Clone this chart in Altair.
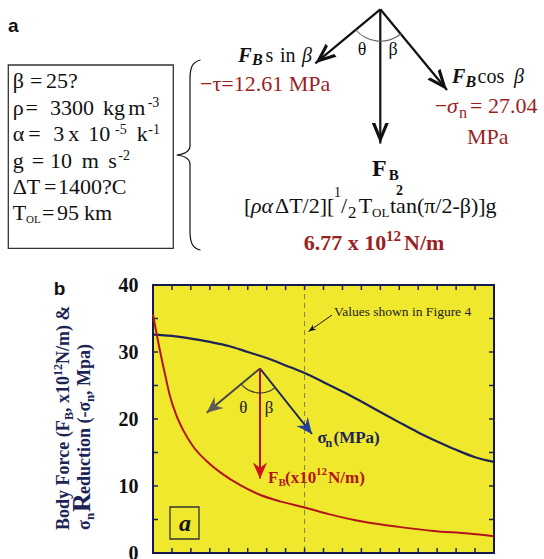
import math
import altair as alt
import pandas as pd

# ---------------- data ----------------
sigma_beta = [5, 7.5, 10, 12.5, 15, 17.5, 20, 22.5, 25, 27.5, 30, 32.5, 35, 37.5, 40, 42.5, 45, 47.5, 50]
sigma_n = [32.6, 32.4, 32.0, 31.5, 30.9, 30.0, 29.1, 28.0, 26.85, 25.5, 24.1, 22.6, 21.05, 19.5, 18.0, 16.65, 15.4, 14.3, 13.6]
fb_beta = [5.0, 5.9, 6.6, 7.2, 8.1, 9.0, 10.3, 12.1, 14.3, 16.4, 19.1, 21.8, 25.0, 28.2, 32.8, 37.4, 42.0, 46.6, 50.0]
fb_force = [35.6, 30.3, 26.6, 23.6, 20.5, 18.3, 15.9, 13.7, 11.7, 10.2, 8.7, 7.7, 6.8, 5.8, 4.65, 3.9, 3.3, 2.9, 2.5]
marked_beta = [25]
y_labels = [0, 10, 20, 30, 40]
x_ticks = [7.5, 10, 12.5, 15, 17.5, 20, 22.5, 25, 27.5, 30, 32.5, 35, 37.5, 40, 42.5, 45, 47.5]
y_ticks = [5, 10, 15, 20, 25, 30, 35]

# ---------------- layout (page pixels of the plot area) ----------------
X0, X1, Y0, Y1 = 153.0, 494.0, 285.0, 553.0
XMIN, XMAX, YMIN, YMAX = 5.0, 50.0, 0.0, 40.0


def dx(px):
    return XMIN + (px - X0) * (XMAX - XMIN) / (X1 - X0)


def dy(py):
    return YMIN + (Y1 - py) * (YMAX - YMIN) / (Y1 - Y0)


SERIF = "Liberation Serif"
SANS = "Liberation Sans"
K = "#111111"
DR = "#9b1f1f"
NV = "#1c2456"
RD = "#b3141c"
BL = "#22409a"
GY = "#5a5a5a"
YEL = "#f0e82c"

XS = alt.Scale(domain=[XMIN, XMAX], nice=False, zero=False)
YS = alt.Scale(domain=[YMIN, YMAX], nice=False, zero=False)
YAXIS = alt.Axis(values=y_labels, ticks=False, domain=False, grid=False,
                 labelFont=SERIF, labelFontWeight="bold", labelFontSize=20,
                 labelColor=K, labelPadding=15, title=None)


def X(f):
    return alt.X(f, type="quantitative", scale=XS, axis=None)


def Y(f):
    return alt.Y(f, type="quantitative", scale=YS, axis=YAXIS)


layers = []

# dashed marker line
layers.append(
    alt.Chart(pd.DataFrame({"b": marked_beta}))
    .mark_rule(color="#85805a", strokeWidth=1, strokeDash=[5, 4])
    .encode(x=X("b"))
)

# inward ticks
tl = 5.0  # px
tdy = tl * (YMAX - YMIN) / (Y1 - Y0)
tdx = tl * (XMAX - XMIN) / (X1 - X0)
tick_rows = []
for b in x_ticks:
    tick_rows.append({"x": b, "x2": b, "y": YMAX, "y2": YMAX - tdy})
    tick_rows.append({"x": b, "x2": b, "y": YMIN, "y2": YMIN + tdy})
for v in y_ticks:
    tick_rows.append({"x": XMIN, "x2": XMIN + tdx, "y": v, "y2": v})
    tick_rows.append({"x": XMAX, "x2": XMAX - tdx, "y": v, "y2": v})
layers.append(
    alt.Chart(pd.DataFrame(tick_rows))
    .mark_rule(color=NV, strokeWidth=1.5)
    .encode(x=X("x"), x2="x2", y=Y("y"), y2="y2")
)

# curves
layers.append(
    alt.Chart(pd.DataFrame({"b": sigma_beta, "v": sigma_n}))
    .mark_line(color=NV, strokeWidth=2.2, interpolate="monotone")
    .encode(x=X("b"), y=Y("v"))
)
layers.append(
    alt.Chart(pd.DataFrame({"b": fb_beta, "v": fb_force}))
    .mark_line(color=RD, strokeWidth=2, interpolate="monotone")
    .encode(x=X("b"), y=Y("v"))
)

# ---------------- diagram geometry ----------------
APEX_A = (380.3, 9.3)
APEX_B = (260.0, 368.5)
arrows = [
    # (x1, y1, x2, y2, line colour, head colour, width, head kind)
    (APEX_A[0], APEX_A[1], 380.3, 143.5, K, K, 2.2, "chev"),
    (APEX_A[0], APEX_A[1], 315.3, 63.3, K, K, 2.2, "chev"),
    (APEX_A[0], APEX_A[1], 447.0, 90.0, K, K, 2.2, "chev"),
    (APEX_B[0], APEX_B[1], 206.7, 412.7, "#444444", GY, 2.0, "stealth"),
    (APEX_B[0], APEX_B[1], 312.0, 434.0, NV, BL, 2.0, "stealth"),
    (APEX_B[0], APEX_B[1], 260.0, 478.5, RD, "#d0121c", 2.0, "stealth"),
    (332.0, 315.0, 308.5, 331.5, K, K, 1.0, "small"),
]
line_rows, head_rows = [], []
for x1, y1, x2, y2, lc, hc, w, kind in arrows:
    line_rows.append({"x": dx(x1), "y": dy(y1), "x2": dx(x2), "y2": dy(y2), "c": lc, "w": w})
    ang = math.degrees(math.atan2(x2 - x1, -(y2 - y1))) % 360
    head_rows.append({"x": dx(x2), "y": dy(y2), "a": ang, "c": hc, "k": kind})

layers.append(
    alt.Chart(pd.DataFrame(line_rows))
    .mark_rule()
    .encode(x=X("x"), y=Y("y"), x2="x2", y2="y2",
            color=alt.Color("c:N", scale=None),
            strokeWidth=alt.StrokeWidth("w:Q", scale=None))
)

HEADS = {
    "chev": ("M0,0 L0.85,2.05 L0.5,2.05 L0,0.8 L-0.5,2.05 L-0.85,2.05 Z", 400),
    "stealth": ("M0,0 L0.9,2 L0,1.35 L-0.9,2 Z", 256),
    "small": ("M0,0 L1,2.6 L0,1.8 L-1,2.6 Z", 36),
}
hdf = pd.DataFrame(head_rows)
for kind, (path, size) in HEADS.items():
    sub = hdf[hdf["k"] == kind]
    layers.append(
        alt.Chart(sub)
        .mark_point(shape=path, filled=True, size=size, opacity=1, strokeWidth=0)
        .encode(x=X("x"), y=Y("y"),
                angle=alt.Angle("a:Q", scale=None),
                color=alt.Color("c:N", scale=None))
    )

# angle arcs
arcs = [
    (APEX_A, 32.0, 140.4, 230.3, "#666666"),
    (APEX_B, 24.5, 141.3, 230.9, "#333333"),
]
for (cx, cy), r, t1, t2, c in arcs:
    layers.append(
        alt.Chart(pd.DataFrame({"x": [dx(cx)], "y": [dy(cy)]}))
        .mark_arc(radius=r + 0.55, radius2=r - 0.55, theta=math.radians(t1),
                  theta2=math.radians(t2), color=c)
        .encode(x=X("x"), y=Y("y"))
    )

# rectangles (parameter box, "a" box)
rects = [(8.3, 65.0, 173.3, 248.3), (170.0, 507.0, 199.0, 539.0)]
layers.append(
    alt.Chart(pd.DataFrame([{"x": dx(a), "y": dy(b), "x2": dx(c), "y2": dy(d)} for a, b, c, d in rects]))
    .mark_rect(fillOpacity=0, stroke="#333333", strokeWidth=1.3)
    .encode(x=X("x"), x2="x2", y=Y("y"), y2="y2")
)

# curly brace
BRACE = ("M0.11,-1 C0.03,-0.98 0,-0.93 0,-0.8 L0,-0.1 C0,-0.04 -0.05,-0.01 -0.14,0 "
         "C-0.05,0.01 0,0.04 0,0.1 L0,0.8 C0,0.93 0.03,0.98 0.11,1")
layers.append(
    alt.Chart(pd.DataFrame({"x": [dx(190.0)], "y": [dy(155.0)]}))
    .mark_point(shape=BRACE, filled=False, size=190 * 190, color=K, strokeWidth=1.2, opacity=1)
    .encode(x=X("x"), y=Y("y"))
)

# ---------------- texts ----------------
texts = []


def T(t, x, y, s, c=K, font=SERIF, wt="normal", st="normal", al="left", bl="alphabetic", ang=0):
    texts.append({"t": t, "x": dx(x), "y": dy(y), "s": s, "c": c, "font": font,
                  "wt": wt, "st": st, "al": al, "bl": bl, "ang": ang})


# panel labels
T("a", 8, 32, 19, K, SANS, "bold")
T("b", 53.8, 295, 19, K, SANS, "bold")

# parameter box
BS = 22
T("β", 12.7, 88, BS); T("=", 30, 88, BS); T("25?", 46, 88, BS)
T("ρ", 12.7, 114.5, BS); T("=", 25.5, 114.5, BS); T("3300", 50, 114.5, BS)
T("kg", 103, 114.5, BS); T("m", 128.3, 114.5, BS); T("-3", 147.7, 107, 14)
T("α", 12.7, 141, BS); T("=", 28.3, 141, BS); T("3", 53.3, 141, BS); T("x", 68.3, 141, BS)
T("10", 88.3, 141, BS); T("-5", 115, 133.5, 14); T("k", 136.7, 141, BS); T("-1", 148.3, 133.5, 14)
T("g", 12.7, 167.5, BS); T("=", 31.7, 167.5, BS); T("10", 50, 167.5, BS); T("m", 81.7, 167.5, BS)
T("s", 108.3, 167.5, BS); T("-2", 118.3, 160, 14)
T("ΔT", 12.7, 194, BS); T("=", 44, 194, BS); T("1400?C", 58, 194, BS)
T("T", 12.7, 219.5, BS); T("OL", 26, 223, 11); T("=", 42, 219.5, BS); T("95", 57, 219.5, BS); T("km", 84, 219.5, BS)

# force decomposition
T("F", 238.3, 61.5, 20, K, SERIF, "bold", "italic"); T("B", 252, 65, 16, K, SERIF, "bold", "italic")
T("s", 265.5, 61.5, 20); T("in", 280, 61.5, 20); T("β", 302, 61.5, 20, K, SERIF, "normal", "italic")
T("−τ=12.61 MPa", 200, 91, 22, DR)
T("F", 452, 83, 20, K, SERIF, "bold", "italic"); T("B", 465.5, 86.5, 16, K, SERIF, "bold", "italic")
T("cos", 477.5, 83, 20); T("β", 514, 83, 20, K, SERIF, "normal", "italic")
T("−", 434.7, 113, 22, DR); T("σ", 447, 113, 22, DR, SERIF, "normal", "italic")
T("n", 459, 118, 16, DR); T("= 27.04", 470, 113, 22, DR)
T("MPa", 467, 144, 22, DR)
T("θ", 362, 50, 18, K, SERIF, "normal", "normal", "center", "middle")
T("β", 393, 50, 18, K, SERIF, "normal", "normal", "center", "middle")
T("F", 372, 175.5, 24, K, SERIF, "bold"); T("B", 388.7, 179.5, 15, K, SERIF, "bold")
T("[", 244, 213, 22); T("ρα", 251, 213, 22, K, SERIF, "normal", "italic"); T("ΔT/2][", 275, 213, 22)
T("1", 334, 197, 14); T("/", 341, 213, 22); T("2", 348, 218, 17); T("T", 358.7, 213, 22)
T("OL", 372, 217, 13); T("2", 396, 194.5, 14, K, SERIF, "bold"); T("tan(π/2-β)]g", 390, 213, 22)
T("6.77 x 10", 303.7, 249.5, 22, DR, SERIF, "bold"); T("12", 386, 240.5, 15, DR, SERIF, "bold")
T("N/m", 404, 249.5, 22, DR, SERIF, "bold")

# panel b annotations
T("Values shown in Figure 4", 334, 312, 13.5, "#222222", SERIF, "normal", "normal", "left", "middle")
T("θ", 243.3, 407.5, 17, "#222222", SERIF, "normal", "normal", "center", "middle")
T("β", 269, 407.5, 17, "#222222", SERIF, "normal", "normal", "center", "middle")
T("σ", 317.5, 438, 17, NV, SERIF, "bold", "normal", "left", "middle")
T("n", 325.5, 443, 12, NV, SERIF, "bold", "normal", "left", "middle")
T("(MPa)", 333.5, 438, 17, NV, SERIF, "bold", "normal", "left", "middle")
T("F", 268, 478, 17, RD, SERIF, "bold", "normal", "left", "middle")
T("B", 278.5, 483, 11, RD, SERIF, "bold", "normal", "left", "middle")
T("(x10", 285, 478, 17, RD, SERIF, "bold", "normal", "left", "middle")
T("12", 316, 472, 11, RD, SERIF, "bold", "normal", "left", "middle")
T("N/m)", 328, 478, 17, RD, SERIF, "bold", "normal", "left", "middle")
T("a", 185, 531, 24, K, SERIF, "bold", "italic", "center")

# y-axis title (rotated pieces)
L1, L2 = 68.5, 89.5
T("Body Force (F", L1, 530, 18, NV, SERIF, "bold", ang=270)
T("B", L1 + 4, 420, 12, NV, SERIF, "bold", ang=270)
T(", x10", L1, 412, 18, NV, SERIF, "bold", ang=270)
T("12", L1 - 7, 376, 12, NV, SERIF, "bold", ang=270)
T("N/m) &", L1, 364, 18, NV, SERIF, "bold", ang=270)
T("σ", L2, 530, 18, NV, SERIF, "bold", ang=270)
T("n", L2 + 4, 520, 13, NV, SERIF, "bold", ang=270)
T("R", L2, 512, 26, NV, SERIF, "bold", ang=270)
T("eduction (-σ", L2, 494, 18, NV, SERIF, "bold", ang=270)
T("n", L2 + 4, 402, 13, NV, SERIF, "bold", ang=270)
T(", Mpa)", L2, 395, 18, NV, SERIF, "bold", ang=270)

tdf = pd.DataFrame(texts)
for (font, wt, st, al, bl), sub in tdf.groupby(["font", "wt", "st", "al", "bl"]):
    layers.append(
        alt.Chart(sub.drop(columns=["font", "wt", "st", "al", "bl"]))
        .mark_text(font=font, fontWeight=wt, fontStyle=st, align=al, baseline=bl)
        .encode(x=X("x"), y=Y("y"), text="t:N",
                size=alt.Size("s:Q", scale=None),
                color=alt.Color("c:N", scale=None),
                angle=alt.Angle("ang:Q", scale=None))
    )

chart = (
    alt.layer(*layers)
    .properties(width=int(X1 - X0), height=int(Y1 - Y0),
                padding={"left": int(X0), "top": int(Y0), "right": int(544 - X1), "bottom": int(559 - Y1)},
                autosize=alt.AutoSizeParams(type="none"),
                background="white")
    .configure_view(fill=YEL, stroke="#14184a", strokeWidth=2)
)

chart.save("out.html", embed_options={"renderer": "svg", "actions": False})
